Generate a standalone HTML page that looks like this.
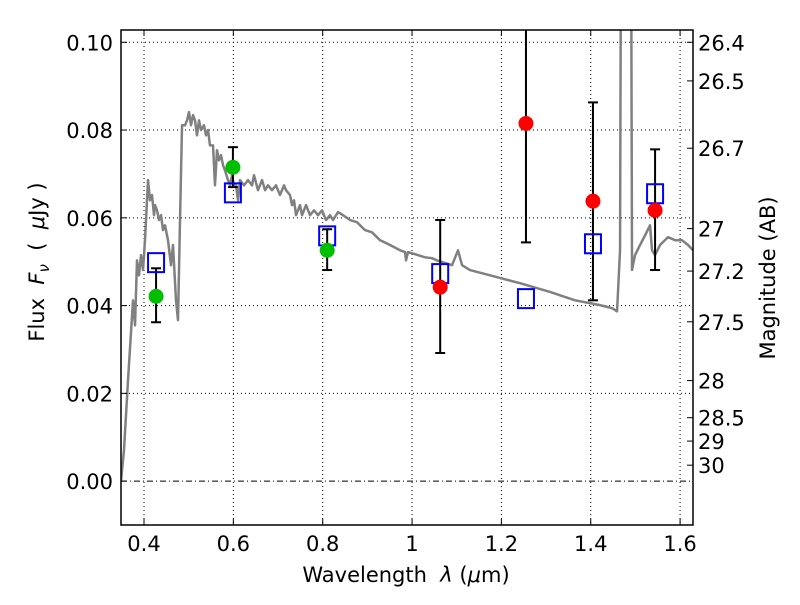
<!DOCTYPE html>
<html><head><meta charset="utf-8"><style>
html,body{margin:0;padding:0;background:#fff;}
svg text{font-family:"DejaVu Sans","Liberation Sans",sans-serif;fill:#000;}
</style></head><body>
<svg id="chart" width="800" height="600" viewBox="0 0 800 600" xmlns="http://www.w3.org/2000/svg">
<rect width="800" height="600" fill="#fff"/>
<defs><clipPath id="clip"><rect x="121" y="30" width="572" height="495"/></clipPath></defs>
<g id="grid"></g>
<g id="marks" clip-path="url(#clip)"></g>
<g id="axes"></g>
</svg>
<script>
const specLam=[0.3485,0.3552,0.3642,0.3754,0.3799,0.3843,0.3888,0.3933,0.3978,0.4022,0.4090,0.4134,0.4179,0.4224,0.4246,0.4291,0.4336,0.4381,0.4425,0.4470,0.4537,0.4604,0.4649,0.4716,0.4761,0.4806,0.4851,0.4918,0.4963,0.5007,0.5052,0.5097,0.5142,0.5186,0.5231,0.5276,0.5343,0.5388,0.5433,0.5477,0.5545,0.5589,0.5634,0.5679,0.5724,0.5768,0.5813,0.5880,0.5925,0.5970,0.6015,0.6059,0.6104,0.6149,0.6239,0.6328,0.6418,0.6462,0.6552,0.6642,0.6709,0.6776,0.6865,0.6955,0.7044,0.7134,0.7179,0.7268,0.7313,0.7358,0.7403,0.7492,0.7537,0.7627,0.7716,0.7806,0.7895,0.7985,0.8074,0.8164,0.8231,0.8343,0.8455,0.8612,0.8768,0.8947,0.9104,0.9283,0.9507,0.9731,0.9843,0.9865,0.9910,1.0067,1.0290,1.0447,1.0559,1.0895,1.1029,1.1119,1.1298,1.1745,1.2417,1.3089,1.3648,1.4208,1.4477,1.4589,1.4656,1.4678,1.4902,1.4924,1.4991,1.5103,1.5215,1.5327,1.5372,1.5439,1.5551,1.5730,1.5887,1.6043,1.6177,1.6289];
const specFlux=[0,0.0071,0.0230,0.0412,0.0355,0.0503,0.0469,0.0515,0.0481,0.0549,0.0686,0.0640,0.0652,0.0606,0.0629,0.0617,0.0595,0.0606,0.0572,0.0583,0.0549,0.0492,0.0538,0.0412,0.0367,0.0595,0.0811,0.0811,0.0822,0.0841,0.0811,0.0834,0.0822,0.0788,0.0822,0.0800,0.0811,0.0788,0.0800,0.0765,0.0765,0.0674,0.0754,0.0731,0.0743,0.0720,0.0708,0.0686,0.0674,0.0697,0.0674,0.0674,0.0640,0.0686,0.0674,0.0686,0.0674,0.0697,0.0663,0.0686,0.0663,0.0674,0.0663,0.0674,0.0652,0.0674,0.0663,0.0652,0.0629,0.0640,0.0606,0.0629,0.0606,0.0629,0.0606,0.0617,0.0606,0.0617,0.0595,0.0606,0.0595,0.0613,0.0606,0.0595,0.0590,0.0572,0.0567,0.0549,0.0538,0.0526,0.0522,0.0503,0.0522,0.0517,0.0510,0.0508,0.0503,0.0492,0.0526,0.0492,0.0481,0.0469,0.0451,0.0431,0.0412,0.0401,0.0394,0.0387,0.0526,0.13,0.13,0.0481,0.0515,0.0538,0.0560,0.0583,0.0526,0.0515,0.0538,0.0556,0.0549,0.0549,0.0538,0.0526];
const modelLam=[0.427,0.599,0.810,1.063,1.255,1.405,1.544];
const modelFlux=[0.0499,0.0658,0.0560,0.0474,0.0417,0.0542,0.0656];
const detLam=[0.427,0.599,0.810];
const detFlux=[0.0421,0.0715,0.0526];
const detLo=[0.0362,0.0670,0.0481];
const detHi=[0.0485,0.0761,0.0574];
const ulLam=[1.063,1.255,1.405,1.544];
const ulFlux=[0.0442,0.0815,0.0638,0.0617];
const ulLo=[0.0292,0.0544,0.0412,0.0481];
const ulHi=[0.0595,0.11,0.0863,0.0756];
const xTicks=[0.4,0.6,0.8,1.0,1.2,1.4,1.6];
const xTickLabels=["0.4","0.6","0.8","1","1.2","1.4","1.6"];
const yTicks=[0,0.02,0.04,0.06,0.08,0.10];
const yTickLabels=["0.00","0.02","0.04","0.06","0.08","0.10"];
const magTicks=[26.4,26.5,26.7,27,27.2,27.5,28,28.5,29,30];
const magTickLabels=["26.4","26.5","26.7","27","27.2","27.5","28","28.5","29","30"];

const L=121,R=693,T=30,B=525,xMin=0.3485,xMax=1.6289,yMin=-0.0100,yMax=0.1028;
const X=v=>L+(v-xMin)/(xMax-xMin)*(R-L);
const Y=v=>B-(v-yMin)/(yMax-yMin)*(B-T);
const magY=m=>Y(Math.pow(10,(23.9-m)/2.5));
const NS="http://www.w3.org/2000/svg";
function mk(tag,attrs,parent){const e=document.createElementNS(NS,tag);for(const k in attrs)e.setAttribute(k,attrs[k]);parent.appendChild(e);return e;}
const grid=document.getElementById('grid'),marks=document.getElementById('marks'),axes=document.getElementById('axes');

xTicks.forEach((v,i)=>{
  const g=mk('line',{x1:X(v),x2:X(v),y1:T,y2:B,stroke:'#000','stroke-width':1,'stroke-dasharray':'1,3'},grid);
  
  
  mk('line',{x1:X(v),x2:X(v),y1:B,y2:B-6,stroke:'#000'},axes);
  mk('line',{x1:X(v),x2:X(v),y1:T,y2:T+6,stroke:'#000'},axes);
  const t=mk('text',{x:X(v),y:B+26,'text-anchor':'middle','font-size':21},axes);t.textContent=xTickLabels[i];
  
  
});
yTicks.forEach((v,i)=>{
  const g=mk('line',{x1:L,x2:R,y1:Y(v),y2:Y(v),stroke:'#000','stroke-width':1,'stroke-dasharray':v===0?'6,3,1,3':'1,3'},grid);
  
  
  mk('line',{x1:L,x2:L+6,y1:Y(v),y2:Y(v),stroke:'#000'},axes);
  const t=mk('text',{x:L-8,y:Y(v)+8,'text-anchor':'end','font-size':21},axes);t.textContent=yTickLabels[i];
  
  
});
magTicks.forEach((m,i)=>{
  mk('line',{x1:R,x2:R-6,y1:magY(m),y2:magY(m),stroke:'#000'},axes);
  const t=mk('text',{x:R+5,y:magY(m)+8,'text-anchor':'start','font-size':21},axes);t.textContent=magTickLabels[i];
  
  
});
const sp=mk('polyline',{points:specLam.map((l,i)=>X(l)+','+Y(specFlux[i])).join(' '),fill:'none',stroke:'#808080','stroke-width':2.5,'stroke-linejoin':'round'},marks);


function errbar(x,lo,hi){
  const g=mk('g',{stroke:'#000','stroke-width':2},marks);
  mk('line',{x1:X(x),x2:X(x),y1:Y(lo),y2:Y(hi)},g);
  mk('line',{x1:X(x)-5,x2:X(x)+5,y1:Y(lo),y2:Y(lo)},g);
  mk('line',{x1:X(x)-5,x2:X(x)+5,y1:Y(hi),y2:Y(hi)},g);
  
  
}
detLam.forEach((l,i)=>errbar(l,detLo[i],detHi[i]));
ulLam.forEach((l,i)=>errbar(l,ulLo[i],ulHi[i]));
modelLam.forEach((l,i)=>{
  const r=mk('rect',{x:X(l)-8,y:Y(modelFlux[i])-9,width:16,height:19,fill:'none',stroke:'#0000ff','stroke-width':2},marks);
  
  
});
detLam.forEach((l,i)=>{
  const c=mk('circle',{cx:X(l),cy:Y(detFlux[i]),r:7.5,fill:'#00bf00'},marks);
  
  
});
ulLam.forEach((l,i)=>{
  const c=mk('circle',{cx:X(l),cy:Y(ulFlux[i]),r:7.5,fill:'#ff0000'},marks);
  
  
});
const fr=mk('rect',{x:L,y:T,width:R-L,height:B-T,fill:'none',stroke:'#000','stroke-width':1.5},axes);


</script>
<svg style="position:absolute;left:0;top:0" width="800" height="600">
<text x="406" y="582" text-anchor="middle" font-size="21" font-family="DejaVu Sans, sans-serif">Wavelength&#160;&#160;<tspan font-style="italic">λ</tspan>&#160;(<tspan font-style="italic">μ</tspan>m)</text>
<text transform="translate(44,262) rotate(-90)" text-anchor="middle" font-size="21" font-family="DejaVu Sans, sans-serif">Flux&#160;&#160;<tspan font-style="italic">F</tspan><tspan font-style="italic" font-size="15" dy="5">ν</tspan><tspan dy="-5">&#160;&#160;(&#160;&#160;</tspan><tspan font-style="italic">μ</tspan>Jy&#160;)</text>
<text transform="translate(775,278) rotate(-90)" text-anchor="middle" font-size="21" font-family="DejaVu Sans, sans-serif">Magnitude (AB)</text>
</svg>
</body></html>
